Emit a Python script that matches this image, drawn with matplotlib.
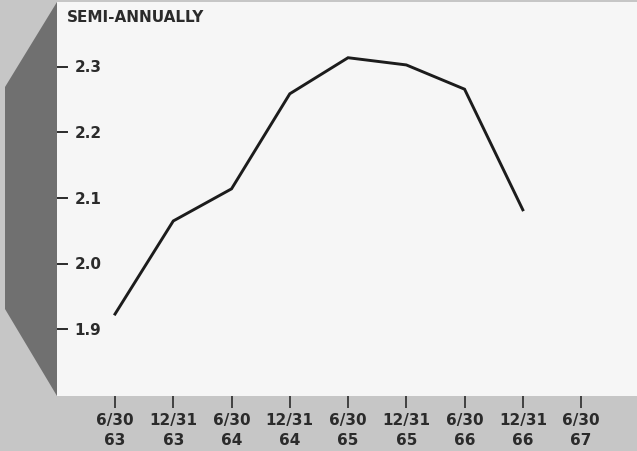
import matplotlib.pyplot as plt
from matplotlib.patches import Polygon

# semi-annual series
dates = ['6/30\n63', '12/31\n63', '6/30\n64', '12/31\n64', '6/30\n65',
         '12/31\n65', '6/30\n66', '12/31\n66', '6/30\n67']
values = [1.923, 2.065, 2.114, 2.259, 2.314, 2.303, 2.266, 2.082]
yticks = [1.9, 2.0, 2.1, 2.2, 2.3]

W, H = 637, 452
plt.rcParams['font.family'] = ['DejaVu Sans']
text_col = '#2b2b2b'

fig = plt.figure(figsize=(W / 100, H / 100), dpi=100)
fig.patch.set_facecolor('#c6c6c6')

# dark slanted strip on the left of the panel
strip = [(57, 3), (5, 88), (5, 310), (57, 397)]
fig.patches.append(Polygon([(x / W, 1 - y / H) for x, y in strip],
                           closed=True, transform=fig.transFigure,
                           facecolor='#707070', edgecolor='none', zorder=0))

ax = fig.add_axes([57 / W, 1 - 397 / H, (W - 57) / W, (397 - 3) / H])
ax.set_facecolor('#f6f6f6')
for s in ax.spines.values():
    s.set_visible(False)

ax.plot(range(len(values)), values, color='#1c1c1c', lw=2.1,
        solid_joinstyle='miter')

ax.set_xlim(-0.996, 8.96)
ax.set_ylim(1.798, 2.399)

ax.set_xticks(range(len(dates)))
ax.set_xticklabels(dates, fontsize=11, fontweight='bold', color=text_col,
                   linespacing=1.45)
ax.tick_params(axis='x', direction='out', length=8.5, width=1.2,
               color=text_col, pad=3)

# y ticks: short dashes on the panel edge, labels inside the panel
ax.set_yticks(yticks)
ax.set_yticklabels([])
ax.tick_params(axis='y', left=False)
for v in yticks:
    ax.plot([0, 0.018], [v, v], transform=ax.get_yaxis_transform(),
            color=text_col, lw=1.4, clip_on=False)
    ax.text(0.03, v, f'{v:.1f}', transform=ax.get_yaxis_transform(),
            fontsize=11, fontweight='bold', color=text_col,
            ha='left', va='center')

ax.text(67 / W, 1 - 17 / H, 'SEMI-ANNUALLY', transform=fig.transFigure,
        fontsize=11, fontweight='bold', color=text_col, va='center',
        ha='left')

fig.savefig('out.png', dpi=100, facecolor=fig.get_facecolor())
